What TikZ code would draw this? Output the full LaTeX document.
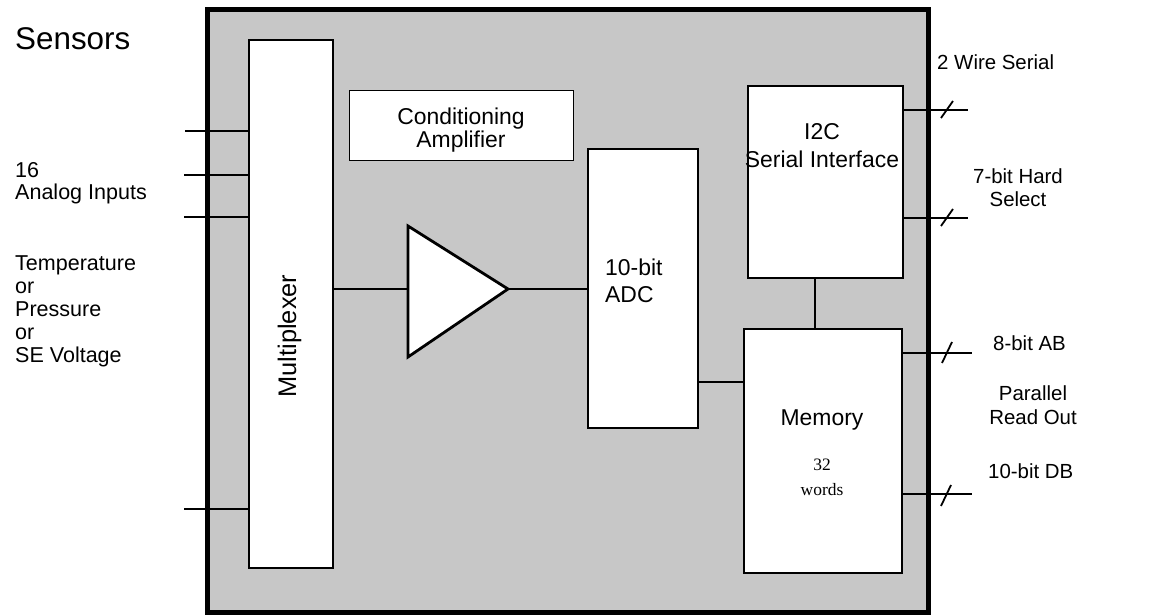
\documentclass[tikz,border=0pt]{standalone}
\usepackage{fontspec}
\setmainfont{Liberation Sans}
\newfontfamily\seriffont{Liberation Serif}
\begin{document}
\begin{tikzpicture}[x=1bp,y=-1bp,
  blk/.style={draw,line width=2.8bp,fill=white,inner sep=0pt},
  wire/.style={line width=2.8bp},
  thin/.style={line width=1.8bp},
  lbl/.style={inner sep=0pt,font=\fontsize{20.5}{23}\selectfont,align=left},
  lblL/.style={inner sep=0pt,font=\fontsize{21.6}{23}\selectfont,align=left},
  lblc/.style={inner sep=0pt,font=\fontsize{20.5}{24}\selectfont,align=center},
  inner/.style={inner sep=0pt,font=\fontsize{23}{28}\selectfont},
]
\useasboundingbox (0,0) rectangle (1163,615);
% chip outline
\node[draw,line width=5bp,fill=black!22,minimum width=720bp,minimum height=602bp,inner sep=0pt] (chip) at (568,311) {};
% blocks
\node[blk,minimum width=84bp,minimum height=528bp] (mux) at (291,304) {};
\node[draw,line width=1bp,fill=white,minimum width=224bp,minimum height=70bp,inner sep=0pt] (cond) at (461,126) {};
\node[blk,minimum width=110bp,minimum height=279bp] (adc) at (643,288.5) {};
\node[blk,minimum width=155bp,minimum height=192bp] (i2c) at (825.5,182) {};
\node[blk,minimum width=158bp,minimum height=244bp] (mem) at (823,451) {};
% block texts
\node[inner,font=\fontsize{23}{23.5}\selectfont,align=center,anchor=base] (condt) at (461,147.5) {Conditioning\\Amplifier};
\node[inner sep=0pt,font=\fontsize{25.5}{27}\selectfont,rotate=90,anchor=base] (muxt) at (296,336) {Multiplexer};
\node[inner,align=left,anchor=base west] (adct) at (605,303) {10-bit\\ADC};
\node[inner,font=\fontsize{23}{29}\selectfont,align=center,anchor=base] (i2ct) at (822,168) {I2C\\Serial Interface};
\node[inner,anchor=base] (memt) at (822,425) {Memory};
\node[inner sep=0pt,anchor=base,align=center,font=\seriffont\fontsize{17.5}{25}\selectfont] (memw) at (822,495) {32\\words};
% amplifier
\coordinate (ampW) at (408,289);
\coordinate (ampE) at (508,289);
\draw[wire,fill=white,line join=miter] (408,226) -- (ampE) -- (408,357) -- cycle;
\draw[wire] (mux.east |- ampW) -- (ampW);
\draw[wire] (ampE) -- (ampE -| adc.west);
% adc to memory
\coordinate (am) at (720,382);
\draw[wire] (am -| adc.east) -- (am -| mem.west);
% i2c to memory
\coordinate (bus) at (815,300);
\draw[wire] (bus |- i2c.south) -- (bus |- mem.north);
% inputs
\coordinate (in1) at (185,131);
\coordinate (in2) at (184,175);
\coordinate (in3) at (184,217);
\coordinate (in4) at (184,509);
\foreach \c in {in1,in2,in3,in4} \draw[wire] (\c) -- (\c -| mux.west);
% outputs
\coordinate (o1) at (968,110);
\coordinate (o2) at (968,218);
\coordinate (o3) at (972,353);
\coordinate (o4) at (972,494);
\draw[wire] (o1 -| i2c.east) -- (o1);
\draw[wire] (o2 -| i2c.east) -- (o2);
\draw[wire] (o3 -| mem.east) -- (o3);
\draw[wire] (o4 -| mem.east) -- (o4);
\coordinate (s1) at (947,110);
\coordinate (s2) at (947,218);
\coordinate (s3) at (947,353);
\coordinate (s4) at (946,495);
\draw[thin] ([shift={(-6,8)}]s1) -- ([shift={(6,-9)}]s1);
\draw[thin] ([shift={(-6,8)}]s2) -- ([shift={(6,-9)}]s2);
\draw[thin] ([shift={(-5,10)}]s3) -- ([shift={(5,-11)}]s3);
\draw[thin] ([shift={(-5,11)}]s4) -- ([shift={(5,-10)}]s4);
% outer labels
\node[inner sep=0pt,anchor=base west,font=\fontsize{31.5}{36}\selectfont] (sensors) at (15,50) {Sensors};
\node[lblL,anchor=base west] (ain) at (15,200) {16\\Analog Inputs};
\node[lblL,anchor=base west] (kinds) at (15,362) {Temperature\\or\\Pressure\\or\\SE Voltage};
\node[lbl,anchor=base west] (twow) at (937,70) {2 Wire Serial};
\node[lblc,anchor=base] (hard) at (1018,207) {7-bit Hard\\Select};
\node[lbl,anchor=base west] (ab) at (993,350) {8-bit AB};
\node[lblc,anchor=base] (par) at (1033,424) {Parallel\\Read Out};
\node[lbl,anchor=base west] (db) at (988,478) {10-bit DB};
\end{tikzpicture}
\end{document}
